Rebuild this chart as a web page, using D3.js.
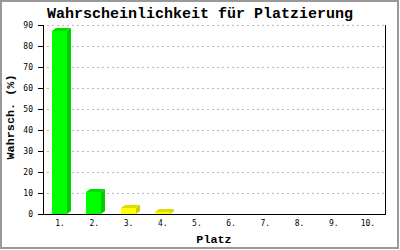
<!DOCTYPE html>
<html lang="de">
<head>
<meta charset="UTF-8">
<title>Wahrscheinlichkeit für Platzierung</title>
<script src="https://d3js.org/d3.v7.min.js"></script>
<style>
  * { margin: 0; padding: 0; }
  body { background: #fff; width: 400px; height: 250px; overflow: hidden; }
  svg { display: block; }
  .tick-label { font-family: 'DejaVu Sans Mono', monospace; font-size: 8px; fill: #000; }
  .title { font-family: 'Liberation Mono', monospace; font-weight: bold; font-size: 15px; }
  .axis-title { font-family: 'Liberation Mono', monospace; font-weight: bold; font-size: 11.8px; }
</style>
</head>
<body>
<svg width="400" height="250"></svg>
<script>
// Daten
const places = ['1.', '2.', '3.', '4.', '5.', '6.', '7.', '8.', '9.', '10.'];
const probabilities = [87, 10.6, 2.9, 1.0, 0, 0, 0, 0, 0, 0];
const yTicks = [0, 10, 20, 30, 40, 50, 60, 70, 80, 90];

const svg = d3.select('svg');
const plot = { left: 43, right: 385, top: 25, bottom: 214 };

// Rahmen
svg.append('rect')
  .attr('x', 1).attr('y', 1).attr('width', 397).attr('height', 247)
  .attr('fill', 'none').attr('stroke', '#999').attr('stroke-width', 2);

const x = d3.scaleBand().domain(places).range([plot.left, plot.right]);
const y = d3.scaleLinear().domain([0, 90]).range([plot.bottom, plot.top]);

// Gitterlinien
svg.append('g').selectAll('line')
  .data(yTicks.filter(t => t > 0)).join('line')
  .attr('x1', plot.left + 4).attr('x2', plot.right)
  .attr('y1', d => Math.round(y(d)) + 0.5).attr('y2', d => Math.round(y(d)) + 0.5)
  .attr('stroke', '#bbb').attr('stroke-dasharray', '2,3');

// Balken (3D)
const depthX = 4, depthY = 3, barW = 15;
const bars = svg.append('g').selectAll('g')
  .data(places.map((p, i) => ({ place: p, value: probabilities[i], i })).filter(d => d.value > 0))
  .join('g');

const front = d => d.i < 2 ? '#00ff00' : '#ffff00';
const shade = d => d.i < 2 ? '#00cc00' : '#cccc00';
const top3d = d => d.i < 2 ? '#00dd00' : '#dddd00';

bars.append('polygon')
  .attr('fill', shade)
  .attr('points', d => {
    const x0 = Math.round(x(d.place) + x.bandwidth() / 2 - 8) + barW;
    const yt = Math.round(y(d.value)), yb = plot.bottom;
    return [[x0, yt], [x0 + depthX, yt - depthY], [x0 + depthX, yb - depthY], [x0, yb]].join(' ');
  });

bars.append('polygon')
  .attr('fill', top3d)
  .attr('points', d => {
    const x0 = Math.round(x(d.place) + x.bandwidth() / 2 - 8);
    const yt = Math.round(y(d.value));
    return [[x0, yt], [x0 + depthX, yt - depthY], [x0 + barW + depthX, yt - depthY], [x0 + barW, yt]].join(' ');
  });

bars.append('rect')
  .attr('shape-rendering', 'crispEdges')
  .attr('fill', front)
  .attr('x', d => Math.round(x(d.place) + x.bandwidth() / 2 - 8))
  .attr('y', d => Math.round(y(d.value)))
  .attr('width', barW)
  .attr('height', d => plot.bottom - Math.round(y(d.value)));

// Achsen
const axes = svg.append('g').attr('stroke', '#000').attr('shape-rendering', 'crispEdges');
axes.append('line').attr('x1', plot.left + 0.5).attr('x2', plot.left + 0.5)
  .attr('y1', plot.top).attr('y2', plot.bottom + 1);
axes.append('line').attr('x1', plot.right + 0.5).attr('x2', plot.right + 0.5)
  .attr('y1', plot.top).attr('y2', plot.bottom + 1);
axes.append('line').attr('x1', plot.left).attr('x2', plot.right + 1)
  .attr('y1', plot.bottom + 0.5).attr('y2', plot.bottom + 0.5);

axes.selectAll('.ytick').data(yTicks).join('line')
  .attr('x1', plot.left - 5).attr('x2', plot.left)
  .attr('y1', d => Math.round(y(d)) + 0.5).attr('y2', d => Math.round(y(d)) + 0.5);

svg.append('g').selectAll('text')
  .data(yTicks).join('text')
  .attr('class', 'tick-label')
  .attr('x', 33).attr('y', d => Math.round(y(d)) + 3)
  .attr('text-anchor', 'end')
  .text(d => d);

svg.append('g').selectAll('text')
  .data(places).join('text')
  .attr('class', 'tick-label')
  .attr('x', d => x(d) + x.bandwidth() / 2)
  .attr('y', 226)
  .attr('text-anchor', 'middle')
  .text(d => d);

// Titel
svg.append('text').attr('class', 'title')
  .attr('x', 200).attr('y', 17.5).attr('text-anchor', 'middle')
  .text('Wahrscheinlichkeit für Platzierung');

svg.append('text').attr('class', 'axis-title')
  .attr('transform', 'translate(14,117) rotate(-90)')
  .attr('text-anchor', 'middle')
  .text('Wahrsch. (%)');

svg.append('text').attr('class', 'axis-title')
  .attr('x', 214).attr('y', 243).attr('text-anchor', 'middle')
  .text('Platz');
</script>
</body>
</html>
